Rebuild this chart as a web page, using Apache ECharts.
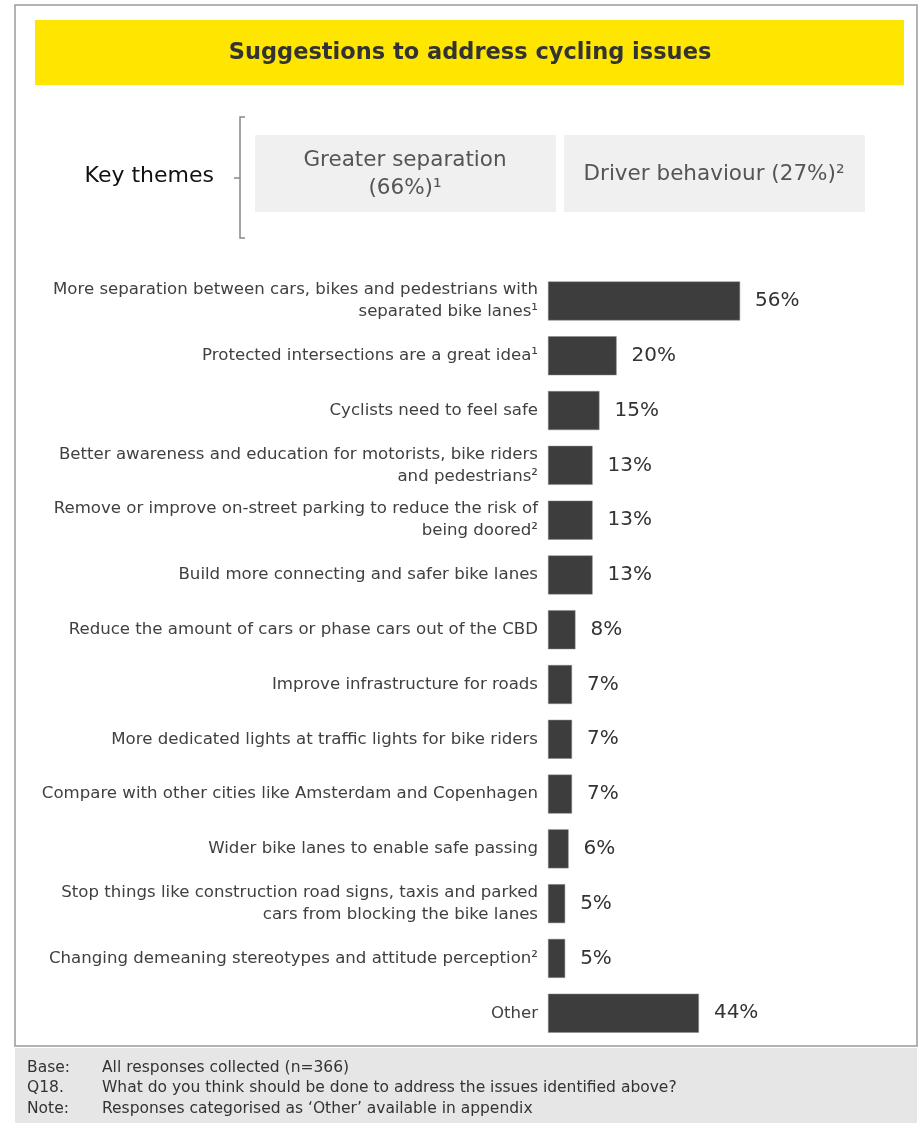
<!DOCTYPE html>
<html>
<head>
<meta charset="utf-8">
<script src="https://cdn.jsdelivr.net/npm/echarts@6/dist/echarts.min.js"></script>
<style>
html,body{margin:0;padding:0;background:#fff;}
#chart{width:923px;height:1123px;}
</style>
</head>
<body>
<div id="chart"></div>
<script>
const titleText = 'Suggestions to address cycling issues';
const themeLabel = 'Key themes';
const themes = ['Greater separation\n(66%)¹', 'Driver behaviour (27%)²'];
const categories = [
  'More separation between cars, bikes and pedestrians with\nseparated bike lanes¹',
  'Protected intersections are a great idea¹',
  'Cyclists need to feel safe',
  'Better awareness and education for motorists, bike riders\nand pedestrians²',
  'Remove or improve on-street parking to reduce the risk of\nbeing doored²',
  'Build more connecting and safer bike lanes',
  'Reduce the amount of cars or phase cars out of the CBD',
  'Improve infrastructure for roads',
  'More dedicated lights at traffic lights for bike riders',
  'Compare with other cities like Amsterdam and Copenhagen',
  'Wider bike lanes to enable safe passing',
  'Stop things like construction road signs, taxis and parked\ncars from blocking the bike lanes',
  'Changing demeaning stereotypes and attitude perception²',
  'Other'
];
const values = [56, 20, 15, 13, 13, 13, 8, 7, 7, 7, 6, 5, 5, 44];
const footerKeys = ['Base:', 'Q18.', 'Note:'];
const footerTexts = [
  'All responses collected (n=366)',
  'What do you think should be done to address the issues identified above?',
  'Responses categorised as \u2018Other\u2019 available in appendix'
];

const FONT = '"DejaVu Sans", "Open Sans", sans-serif';
const chart = echarts.init(document.getElementById('chart'), null, {renderer: 'canvas'});

const graphics = [
  // outer border
  {type: 'rect', shape: {x: 15, y: 5, width: 902, height: 1041}, style: {fill: 'none', stroke: '#9a9a9a', lineWidth: 1.5}, z: 0},
  // yellow title bar
  {type: 'rect', shape: {x: 35, y: 20, width: 869, height: 65}, style: {fill: '#FFE600'}, z: 1},
  {type: 'text', x: 470, y: 53, style: {text: titleText, fill: '#333333', font: 'bold 22.5px ' + FONT, textAlign: 'center', textVerticalAlign: 'middle'}, z: 2},
  // key themes
  {type: 'text', x: 214, y: 176, style: {text: themeLabel, fill: '#111111', font: '22px ' + FONT, textAlign: 'right', textVerticalAlign: 'middle'}, z: 2},
  {type: 'polyline', shape: {points: [[245, 117], [240, 117], [240, 238], [245, 238]]}, style: {stroke: '#888888', lineWidth: 1.5, fill: 'none'}, z: 2},
  {type: 'line', shape: {x1: 234, y1: 178, x2: 240, y2: 178}, style: {stroke: '#888888', lineWidth: 1.5}, z: 2},
  {type: 'rect', shape: {x: 255, y: 135, width: 301, height: 77}, style: {fill: '#f0f0f0'}, z: 1},
  {type: 'rect', shape: {x: 564, y: 135, width: 301, height: 77}, style: {fill: '#f0f0f0'}, z: 1},
  {type: 'text', x: 405, y: 174, style: {text: themes[0], fill: '#555555', font: '21.5px ' + FONT, textAlign: 'center', textVerticalAlign: 'middle', lineHeight: 28}, z: 2},
  {type: 'text', x: 714, y: 174, style: {text: themes[1], fill: '#555555', font: '21.5px ' + FONT, textAlign: 'center', textVerticalAlign: 'middle'}, z: 2},
  // footer
  {type: 'rect', shape: {x: 15, y: 1048, width: 902, height: 75}, style: {fill: '#e6e6e6'}, z: 0}
];
footerKeys.forEach((k, i) => {
  const y = 1067.5 + i * 20.7;
  graphics.push({type: 'text', x: 27, y: y, style: {text: k, fill: '#333333', font: '15.5px ' + FONT, textVerticalAlign: 'middle'}, z: 2});
  graphics.push({type: 'text', x: 102, y: y, style: {text: footerTexts[i], fill: '#333333', font: '15.5px ' + FONT, textVerticalAlign: 'middle'}, z: 2});
});

chart.setOption({
  animation: false,
  backgroundColor: '#ffffff',
  grid: {left: 548, width: 343, top: 273.6, height: 767, containLabel: false},
  xAxis: {type: 'value', min: 0, max: 100, show: false},
  yAxis: {
    type: 'category', data: categories, inverse: true,
    axisLine: {show: false}, axisTick: {show: false},
    axisLabel: {margin: 10, color: '#404040', fontSize: 16.6, fontFamily: FONT, lineHeight: 22, align: 'right'}
  },
  series: [{
    type: 'bar', data: values, barWidth: 39,
    itemStyle: {color: '#3d3d3d', borderColor: '#8a8a8a', borderWidth: 0.5},
    label: {show: true, position: 'right', distance: 15, formatter: '{c}%', color: '#333333', fontSize: 20, fontFamily: FONT}
  }],
  graphic: graphics
});
</script>
</body>
</html>
